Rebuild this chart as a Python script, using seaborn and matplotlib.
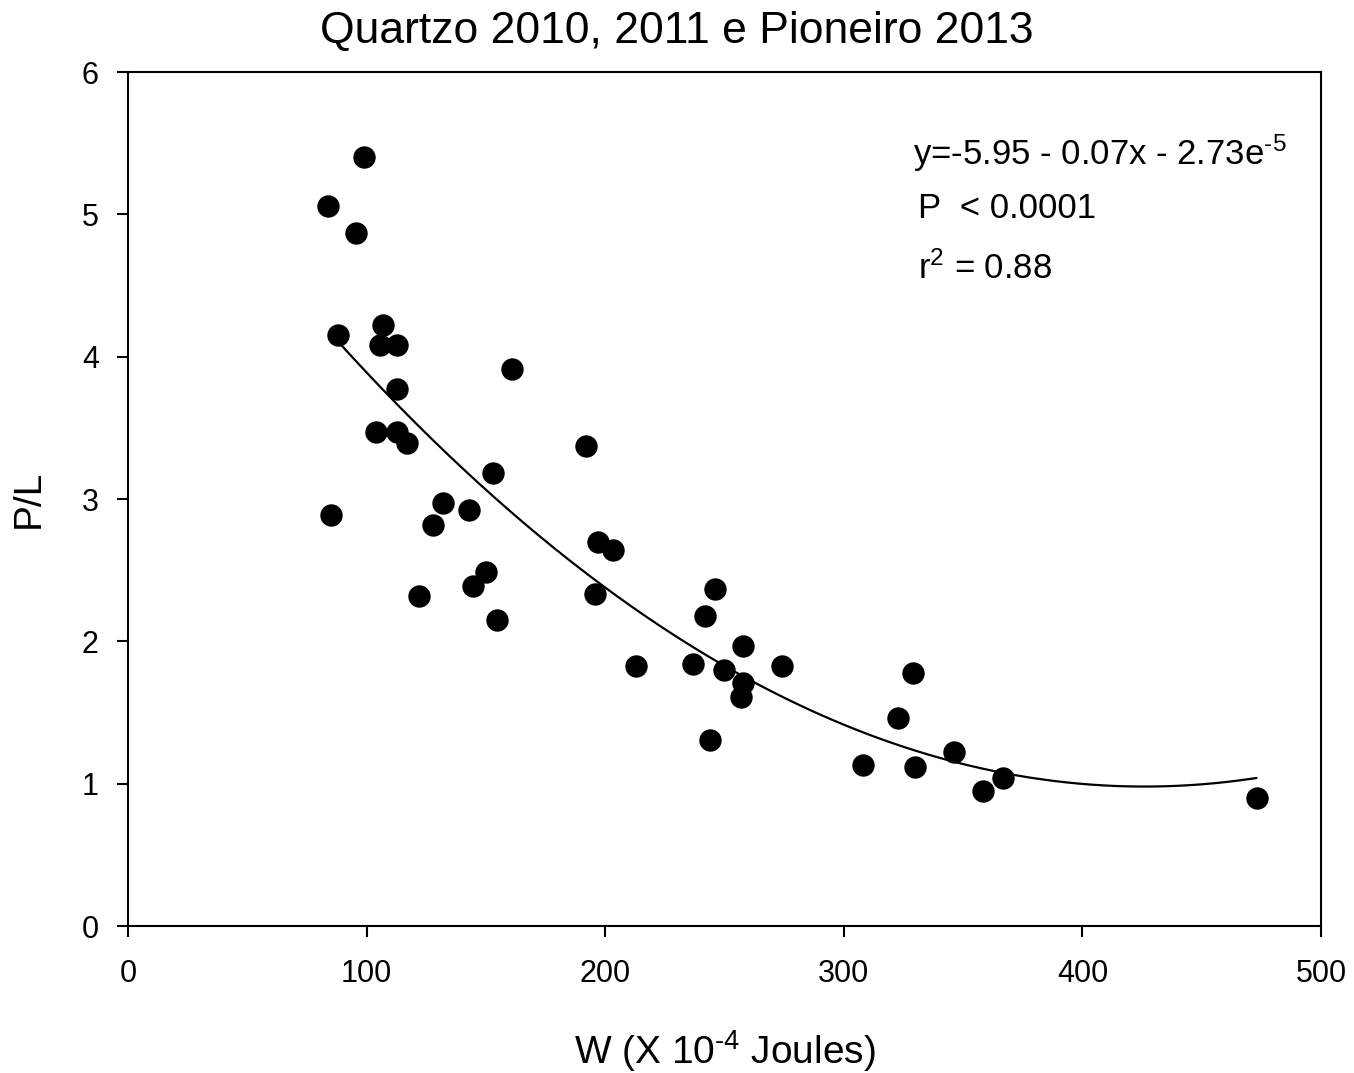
import numpy as np
import pandas as pd
import matplotlib
matplotlib.use("Agg")
import matplotlib.pyplot as plt
import seaborn as sns

# Data
w_values = [83.8, 98.9, 95.6, 88.0, 85.1, 106.9, 105.6, 112.7, 112.7, 103.9,
            112.7, 116.9, 160.9, 153.0, 132.0, 127.8, 142.9, 150.0, 144.6, 122.0,
            154.7, 192.0, 197.0, 203.3, 195.7, 212.9, 236.8, 241.8, 246.0, 249.8,
            257.8, 257.8, 256.9, 243.9, 274.1, 308.0, 322.7, 329.0, 329.8, 346.2,
            358.3, 366.7, 473.2]
pl_values = [5.06, 5.40, 4.87, 4.15, 2.89, 4.22, 4.08, 4.08, 3.77, 3.47,
             3.47, 3.39, 3.91, 3.18, 2.97, 2.82, 2.92, 2.49, 2.39, 2.32,
             2.15, 3.37, 2.70, 2.64, 2.33, 1.83, 1.84, 2.18, 2.37, 1.80,
             1.97, 1.71, 1.61, 1.31, 1.83, 1.13, 1.46, 1.78, 1.12, 1.22,
             0.95, 1.04, 0.90]
# quadratic fit coefficients (c0, c1, c2)
fit_coef = [5.947, -0.02332, 2.737e-5]
fit_range = [89.0, 473.0]

x_ticks = [0, 100, 200, 300, 400, 500]
y_ticks = [0, 1, 2, 3, 4, 5, 6]

sns.set_theme(style="ticks")
plt.rcParams['font.family'] = ['Liberation Sans', 'DejaVu Sans']
plt.rcParams['mathtext.fontset'] = 'custom'
plt.rcParams['mathtext.rm'] = 'Liberation Sans'
plt.rcParams['mathtext.it'] = 'Liberation Sans'
plt.rcParams['mathtext.default'] = 'regular'
plt.rcParams['text.color'] = 'black'
plt.rcParams['axes.labelcolor'] = 'black'

df = pd.DataFrame({"W": w_values, "PL": pl_values})
xs = np.linspace(fit_range[0], fit_range[1], 300)
curve = pd.DataFrame({"W": xs, "PL": fit_coef[0] + fit_coef[1] * xs + fit_coef[2] * xs ** 2})

fig = plt.figure(figsize=(13.54, 10.73), dpi=100)
ax = fig.add_axes([128 / 1354, 1 - 926 / 1073, (1321 - 128) / 1354, (926 - 72) / 1073])

sns.lineplot(data=curve, x="W", y="PL", ax=ax, color="black", linewidth=1.6)
sns.scatterplot(data=df, x="W", y="PL", ax=ax, color="black", s=260,
                edgecolor="black", linewidth=0, zorder=3)

ax.set_xlim(0, 500)
ax.set_ylim(0, 6)
ax.set_xticks(x_ticks)
ax.set_yticks(y_ticks)
ax.tick_params(axis='both', direction='out', length=8, width=1.5, labelsize=22,
               colors='black')
ax.tick_params(axis='x', pad=16)
ax.tick_params(axis='y', pad=13)
for sp in ax.spines.values():
    sp.set_visible(True)
    sp.set_color('black')
    sp.set_linewidth(1.5)

ax.set_xlabel(r"W (X 10$^{\text{-}4}$ Joules)", fontsize=28, labelpad=28, color='black')
ax.set_ylabel("P/L", fontsize=28, labelpad=25, color='black')
fig.text(0.5, 1 - 43 / 1073, "Quartzo 2010, 2011 e Pioneiro 2013", fontsize=32,
         ha='center', va='baseline', color='black')

ax.text(0.658, 0.905, r"y=-5.95 - 0.07x - 2.73e$^{\text{-}5}$", transform=ax.transAxes,
        fontsize=25, va='center', ha='left', color='black')
ax.text(0.662, 0.84, "P  < 0.0001", transform=ax.transAxes,
        fontsize=25, va='center', ha='left', color='black')
ax.text(0.662, 0.77, r"r$^{2}$ = 0.88", transform=ax.transAxes,
        fontsize=25, va='center', ha='left', color='black')

fig.savefig("out.png", dpi=100, facecolor='white')
